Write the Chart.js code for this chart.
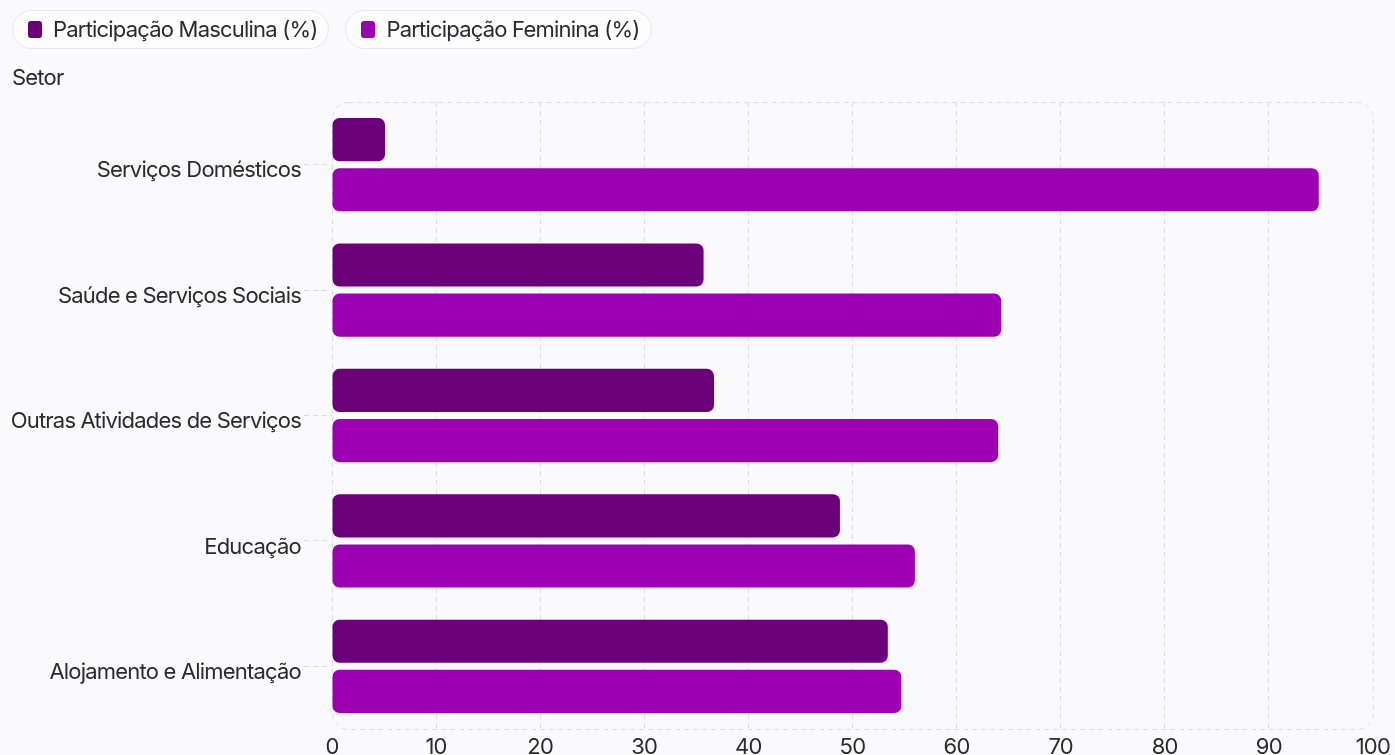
<!DOCTYPE html>
<html lang="pt">
<head>
<meta charset="utf-8">
<title>Participação por setor</title>
<script src="https://cdn.jsdelivr.net/npm/chart.js@4/dist/chart.umd.min.js"></script>
<style>
    html, body {
        margin: 0;
        padding: 0;
        background: #fafafc;
        font-family: 'Inter', 'Noto Sans', sans-serif;
        color: #2b2b2f;
    }
    .wrap {
        position: relative;
        width: 1395px;
        height: 755px;
        overflow: hidden;
    }
    #setorChart {
        position: absolute;
        left: 0;
        top: 0;
    }
    .legend {
        position: absolute;
        left: 12px;
        top: 10px;
        display: flex;
        gap: 16px;
    }
    .legend-item {
        display: flex;
        align-items: center;
        padding: 7px 11px 7px 15px;
        border: 1px solid #e6e6ea;
        border-radius: 20px;
        background: #fdfdfe;
        font-size: 22px;
        letter-spacing: -0.8px;
        line-height: 23px;
    }
    .legend-box {
        width: 14px;
        height: 17px;
        border-radius: 3px;
        margin-right: 11px;
    }
    .axis-title {
        position: absolute;
        left: 12px;
        top: 64px;
        font-size: 22px;
        letter-spacing: -0.8px;
        line-height: 26px;
    }
</style>
</head>
<body>
<div class="wrap">
    <canvas id="setorChart" width="1395" height="755"></canvas>
    <div class="legend" id="legend"></div>
    <div class="axis-title">Setor</div>
</div>
<script>
const setores = [
    'Serviços Domésticos',
    'Saúde e Serviços Sociais',
    'Outras Atividades de Serviços',
    'Educação',
    'Alojamento e Alimentação'
];
const masculina = [5.1, 35.7, 36.7, 48.8, 53.4];
const feminina = [94.8, 64.3, 64.0, 56.0, 54.7];
const serieNomes = ['Participação Masculina (%)', 'Participação Feminina (%)'];
const serieCores = ['#6b0079', '#9c00b2'];

const textColor = '#2b2b2f';
const gridColor = '#dcdce0';

// tighter tracking for all canvas text
const tightText = {
    id: 'tightText',
    beforeUpdate(chart) { chart.ctx.letterSpacing = '-0.8px'; },
    beforeDraw(chart) { chart.ctx.letterSpacing = '-0.8px'; }
};

// rounded dashed frame around the plot area
const plotFrame = {
    id: 'plotFrame',
    beforeDatasetsDraw(chart) {
        const { ctx, chartArea: a } = chart;
        ctx.save();
        ctx.strokeStyle = gridColor;
        ctx.lineWidth = 1;
        ctx.setLineDash([5, 4]);
        ctx.beginPath();
        ctx.roundRect(a.left + 0.5, a.top + 0.5, a.right - a.left, a.bottom - a.top, 16);
        ctx.stroke();
        ctx.restore();
    }
};

const ctx = document.getElementById('setorChart').getContext('2d');
const chart = new Chart(ctx, {
    type: 'bar',
    data: {
        labels: setores,
        datasets: [
            {
                label: serieNomes[0],
                data: masculina,
                backgroundColor: serieCores[0],
                borderRadius: 7,
                borderSkipped: false,
                categoryPercentage: 0.8,
                barPercentage: 0.86
            },
            {
                label: serieNomes[1],
                data: feminina,
                backgroundColor: serieCores[1],
                borderRadius: 7,
                borderSkipped: false,
                categoryPercentage: 0.8,
                barPercentage: 0.86
            }
        ]
    },
    options: {
        indexAxis: 'y',
        responsive: false,
        animation: false,
        layout: { padding: { top: 102, left: 10, right: 21, bottom: 0 } },
        plugins: {
            legend: { display: false },
            tooltip: { enabled: false }
        },
        scales: {
            x: {
                min: 0,
                max: 100,
                ticks: {
                    stepSize: 10,
                    color: textColor,
                    padding: 5,
                    font: { family: 'Inter', size: 22 }
                },
                grid: {
                    drawTicks: false,
                    color: c => (c.index === 0 || c.index === 10) ? 'rgba(0,0,0,0)' : gridColor
                },
                border: { display: false, dash: [5, 4] },
                afterFit: scale => { scale.height = 26; }
            },
            y: {
                ticks: {
                    color: textColor,
                    padding: 3,
                    labelOffset: 6,
                    font: { family: 'Inter', size: 22 }
                },
                grid: {
                    offset: false,
                    drawOnChartArea: false,
                    drawTicks: true,
                    tickLength: 28,
                    tickColor: gridColor,
                    tickBorderDash: [5, 4]
                },
                border: { display: false },
                afterFit: scale => { scale.width = 322; }
            }
        }
    },
    plugins: [tightText, plotFrame]
});

// HTML legend built from the chart datasets
const legendEl = document.getElementById('legend');
chart.data.datasets.forEach(ds => {
    const item = document.createElement('div');
    item.className = 'legend-item';
    const box = document.createElement('span');
    box.className = 'legend-box';
    box.style.background = ds.backgroundColor;
    const txt = document.createElement('span');
    txt.textContent = ds.label;
    item.appendChild(box);
    item.appendChild(txt);
    legendEl.appendChild(item);
});
</script>
</body>
</html>
